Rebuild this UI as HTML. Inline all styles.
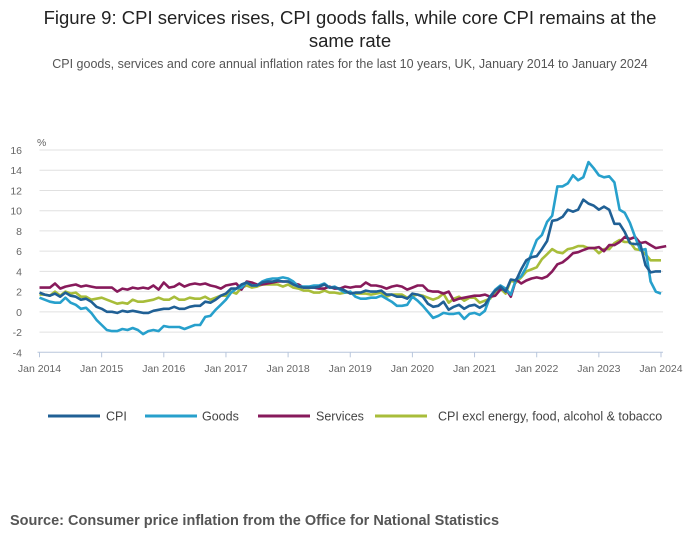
<!DOCTYPE html>
<html><head><meta charset="utf-8"><style>
body{margin:0;width:700px;height:549px;background:#fff;font-family:"Liberation Sans",sans-serif;overflow:hidden}
#t{position:absolute;top:6px;left:0;width:700px;text-align:center;font-size:18.5px;color:#222;line-height:23px}
#s{position:absolute;top:57px;left:0;width:700px;text-align:center;font-size:12.5px;color:#555}
#src{position:absolute;top:513px;left:10px;font-size:14.5px;font-weight:bold;color:#555}
svg{position:absolute;left:0;top:0}
</style></head><body>
<div id="t">Figure 9: CPI services rises, CPI goods falls, while core CPI remains at the<br>same rate</div>
<div id="s">CPI goods, services and core annual inflation rates for the last 10 years, UK, January 2014 to January 2024</div>
<svg id="c" width="700" height="549"></svg>
<div id="src">Source: Consumer price inflation from the Office for National Statistics</div>
<script>
const yTicks=[16,14,12,10,8,6,4,2,0,-2,-4];
const xLabels=["Jan 2014","Jan 2015","Jan 2016","Jan 2017","Jan 2018","Jan 2019","Jan 2020","Jan 2021","Jan 2022","Jan 2023","Jan 2024"];
const seriesNames=["CPI","Goods","Services","CPI excl energy, food, alcohol & tobacco"];
const cpi=[1.9,1.7,1.6,1.8,1.5,1.9,1.6,1.5,1.2,1.3,1.0,0.5,0.3,0.0,0.0,-0.1,0.1,0.0,0.1,0.0,-0.1,-0.1,0.1,0.2,0.3,0.3,0.5,0.3,0.3,0.5,0.6,0.6,1.0,0.9,1.2,1.6,1.8,2.3,2.3,2.7,2.9,2.6,2.6,2.9,3.0,3.0,3.1,3.0,3.0,2.7,2.5,2.4,2.4,2.4,2.5,2.7,2.4,2.4,2.3,2.1,1.8,1.9,1.9,2.1,2.0,2.0,2.1,1.7,1.7,1.5,1.5,1.3,1.8,1.7,1.5,0.8,0.5,0.6,1.0,0.2,0.5,0.7,0.3,0.6,0.7,0.4,0.7,1.5,2.1,2.5,2.0,3.2,3.1,4.2,5.1,5.4,5.5,6.2,7.0,9.0,9.1,9.4,10.1,9.9,10.1,11.1,10.7,10.5,10.1,10.4,10.1,8.7,8.7,7.9,6.8,6.7,6.7,4.6,3.9,4.0,4.0];
const goods=[1.4,1.2,1.0,0.9,0.9,1.4,0.9,0.7,0.3,0.4,-0.1,-0.8,-1.3,-1.8,-1.9,-1.9,-1.7,-1.8,-1.6,-1.8,-2.2,-1.9,-1.8,-1.9,-1.4,-1.5,-1.5,-1.5,-1.7,-1.5,-1.3,-1.3,-0.5,-0.4,0.2,0.7,1.2,1.9,2.3,2.4,2.9,2.6,2.6,3.0,3.2,3.3,3.3,3.4,3.3,3.0,2.5,2.5,2.5,2.6,2.6,2.8,2.4,2.5,2.2,1.9,2.0,1.5,1.3,1.3,1.4,1.4,1.6,1.3,1.0,0.6,0.6,0.7,1.5,1.1,0.6,0.0,-0.6,-0.4,-0.1,-0.2,-0.2,-0.1,-0.7,-0.2,-0.1,-0.3,0.1,1.5,2.2,2.6,2.3,1.7,3.2,3.5,4.4,5.8,7.1,7.6,8.9,9.5,12.4,12.4,12.7,13.5,13.0,13.3,14.8,14.2,13.5,13.3,13.4,12.8,10.1,9.8,8.8,7.4,6.1,6.2,3.0,2.0,1.8];
const services=[2.4,2.4,2.4,2.8,2.3,2.5,2.6,2.7,2.5,2.6,2.5,2.4,2.4,2.4,2.4,2.0,2.3,2.2,2.4,2.3,2.4,2.3,2.6,2.2,2.9,2.4,2.5,2.8,2.5,2.7,2.8,2.7,2.8,2.6,2.5,2.3,2.6,2.7,2.8,2.2,3.0,2.9,2.7,2.7,2.8,2.9,3.0,3.0,3.0,2.8,2.7,2.4,2.4,2.4,2.3,2.3,2.5,2.3,2.3,2.5,2.4,2.5,2.5,2.9,2.6,2.6,2.5,2.3,2.5,2.6,2.5,2.2,2.4,2.6,2.6,2.1,2.0,2.0,1.8,2.0,1.1,1.3,1.4,1.5,1.6,1.6,1.7,1.5,1.6,2.2,2.3,1.5,3.2,2.8,3.1,3.3,3.4,3.3,3.5,4.0,4.7,4.9,5.3,5.8,5.9,6.1,6.3,6.3,6.4,6.0,6.6,6.6,6.9,7.4,7.2,7.4,6.8,6.9,6.6,6.3,6.4,6.5];
const core=[1.7,1.7,1.6,2.0,1.6,2.0,1.8,1.9,1.5,1.5,1.2,1.3,1.4,1.2,1.0,0.8,0.9,0.8,1.2,1.0,1.0,1.1,1.2,1.4,1.2,1.2,1.5,1.2,1.2,1.4,1.3,1.3,1.5,1.2,1.4,1.6,1.6,2.0,1.8,2.4,2.6,2.4,2.5,2.7,2.7,2.7,2.7,2.5,2.7,2.4,2.3,2.1,2.1,1.9,1.9,2.1,1.9,1.9,1.8,1.9,1.9,1.8,1.8,1.8,1.7,1.8,1.9,1.5,1.7,1.7,1.7,1.4,1.6,1.7,1.6,1.4,1.2,1.4,1.8,0.9,1.3,1.5,1.1,1.4,1.4,0.9,1.1,1.3,2.0,2.3,1.8,3.1,2.9,3.4,4.0,4.2,4.4,5.2,5.7,6.2,5.9,5.8,6.2,6.3,6.5,6.5,6.3,6.3,5.8,6.2,6.2,6.8,7.1,6.9,6.9,6.2,6.1,5.7,5.1,5.1,5.1];
const colors=["#206095","#27a0cc","#871a5b","#a8bd3a"];
const NS="http://www.w3.org/2000/svg",svg=document.getElementById('c');
const X0=39.5,X1=661,Y16=150,Ym4=352.3;
const xs=i=>X0+(X1-X0)*i/120, ys=v=>Y16+(16-v)*(Ym4-Y16)/20;
function mk(t,a,p){const e=document.createElementNS(NS,t);for(const k in a)e.setAttribute(k,a[k]);(p||svg).appendChild(e);return e;}
yTicks.forEach(v=>{
 if(v!==-4){const g=mk('line',{x1:X0,x2:X1+2,y1:ys(v),y2:ys(v),stroke:'#e0e0e0','stroke-width':1});
 
 }
 const t=mk('text',{x:22,y:ys(v)+4,'text-anchor':'end','font-size':10.5,fill:'#666'});t.textContent=v;
 
 
});
const ax=mk('line',{x1:X0-2,x2:X1+2,y1:Ym4,y2:Ym4,stroke:'#b8c6dc','stroke-width':1});


const pct=mk('text',{x:37,y:146,'font-size':10.5,fill:'#666'});pct.textContent='%';


xLabels.forEach((l,i)=>{const x=xs(i*12);
 const tk=mk('line',{x1:x,x2:x,y1:Ym4,y2:Ym4+5,stroke:'#b8c6dc'});
 
 
 const t=mk('text',{x:x,y:372,'text-anchor':'middle','font-size':10.5,fill:'#666'});t.textContent=l;
 
 
});
const order=[core,services,goods,cpi],oc=[3,2,1,0];
order.forEach((d,j)=>{const k=oc[j];
 const p=mk('polyline',{points:d.map((v,i)=>xs(i).toFixed(1)+','+ys(v).toFixed(1)).join(' '),fill:'none',stroke:colors[k],'stroke-width':2.6,'stroke-linejoin':'round'});
 
 
});
const lx=[[48,106],[145,202],[258,316],[375,438]];
seriesNames.forEach((n,k)=>{
 const l=mk('line',{x1:lx[k][0],x2:lx[k][0]+52,y1:416,y2:416,stroke:colors[k],'stroke-width':3});
 
 
 const t=mk('text',{x:lx[k][1],y:420.5,'font-size':12.5,fill:'#444'});t.textContent=n;
 
 
});
</script>
</body></html>
